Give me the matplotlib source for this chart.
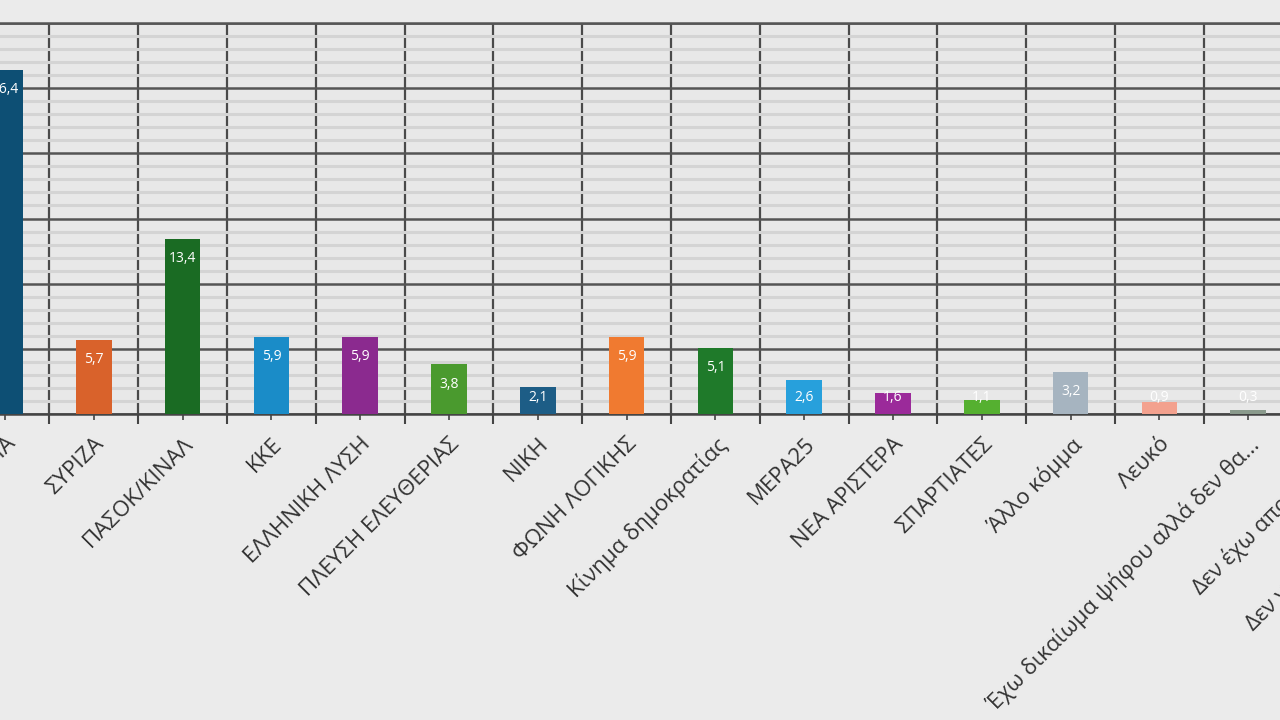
import matplotlib.pyplot as plt
from matplotlib.ticker import MultipleLocator, FixedLocator

parties = ["ΝΕΑ ΔΗΜΟΚΡΑΤΙΑ", "ΣΥΡΙΖΑ", "ΠΑΣΟΚ/ΚΙΝΑΛ", "ΚΚΕ", "ΕΛΛΗΝΙΚΗ ΛΥΣΗ",
           "ΠΛΕΥΣΗ ΕΛΕΥΘΕΡΙΑΣ", "ΝΙΚΗ", "ΦΩΝΗ ΛΟΓΙΚΗΣ", "Κίνημα δημοκρατίας",
           "ΜΕΡΑ25", "ΝΕΑ ΑΡΙΣΤΕΡΑ", "ΣΠΑΡΤΙΑΤΕΣ", "Άλλο κόμμα", "Λευκό",
           "Έχω δικαίωμα ψήφου αλλά δεν θα...", "Δεν έχω αποφασίσει",
           "Δεν γνωρίζω/Δεν απαντώ"]
# last two bars lie outside the visible crop; values are rough guesses
values = [26.4, 5.7, 13.4, 5.9, 5.9, 3.8, 2.1, 5.9, 5.1, 2.6, 1.6, 1.1, 3.2, 0.9, 0.3, 8.0, 3.0]
colors = ["#0d4f74", "#d9622b", "#1a6b23", "#1a8cc8", "#8b2a8f", "#4a9a2e",
          "#1d5d86", "#f07a30", "#1f7a2a", "#27a0dc", "#9b2a9a", "#55b030",
          "#a6b4c0", "#f3a18e", "#8a9a8c", "#7f7f7f", "#5a5a5a"]

bg = "#e8e8e8"
fig = plt.figure(figsize=(12.8, 7.2), dpi=100, facecolor="#ebebeb")

# axes wider than the figure so the picture looks cropped like the reference
step = 88.8
x0 = -0.6
x1 = len(parties) - 0.4
left_px = 5 + step * x0
width_px = step * (x1 - x0)
ax = fig.add_axes([left_px / 1280, (720 - 414) / 720, width_px / 1280, (414 - 23) / 720])
ax.set_facecolor(bg)

x = list(range(len(parties)))
ax.bar(x, values, width=0.4, color=colors, zorder=3)

for i, v in enumerate(values):
    ax.text(i, max(v - 1.5, 1.3), f"{v:.1f}".replace(".", ","), ha="center", va="center",
            color="white", fontsize=10, family="Open Sans", zorder=4)

ax.set_xlim(x0, x1)
ax.set_ylim(0, 30)

ax.yaxis.set_major_locator(MultipleLocator(5))
ax.yaxis.set_minor_locator(MultipleLocator(1))
ax.xaxis.set_minor_locator(FixedLocator([i + 0.5 for i in range(-1, len(parties))]))
ax.set_xticks(x)
ax.set_xticklabels(parties, rotation=45, ha="right", rotation_mode="anchor",
                   fontsize=16, color="#333333", family="Open Sans")
ax.tick_params(axis="x", which="major", length=4, width=1.2, color="#444444", pad=10)
ax.tick_params(axis="x", which="minor", length=7, width=1.5, color="#444444")
ax.tick_params(axis="y", which="both", left=False, labelleft=False)

ax.grid(axis="y", which="minor", color="#d4d4d4", linewidth=2.2, zorder=0)
ax.grid(axis="y", which="major", color="#555555", linewidth=1.8, zorder=1)
ax.grid(axis="x", which="minor", color="#4a4a4a", linewidth=1.6, zorder=1)
ax.grid(axis="x", which="major", visible=False)
ax.set_axisbelow(True)

for s in ["left", "right"]:
    ax.spines[s].set_visible(False)
ax.spines["top"].set_color("#555555")
ax.spines["top"].set_linewidth(1.8)
ax.spines["bottom"].set_color("#444444")
ax.spines["bottom"].set_linewidth(1.8)

fig.savefig("out.png", dpi=100, facecolor=fig.get_facecolor())
